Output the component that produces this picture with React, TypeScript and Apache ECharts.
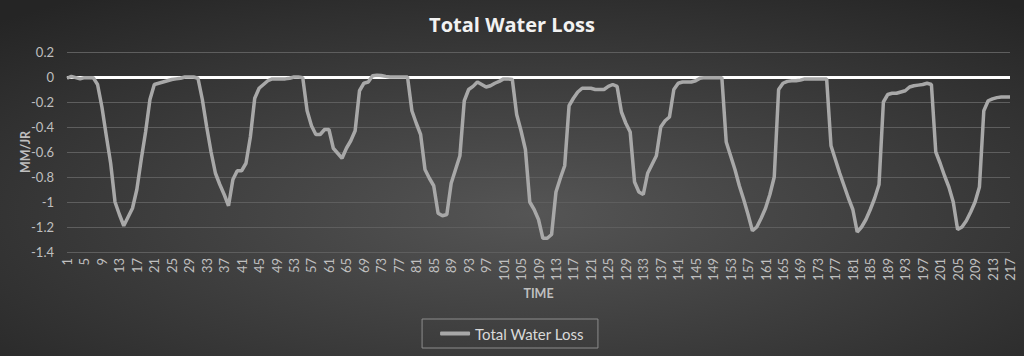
import React, { useEffect, useRef } from "react";
import * as echarts from "echarts";

const TITLE = "Total Water Loss";
const SERIES_NAME = "Total Water Loss";
const X_NAME = "TIME";
const Y_NAME = "MM/JR";
const CATEGORY_COUNT = 217;
const categories: string[] = Array.from({ length: CATEGORY_COUNT }, (_, i) => String(i + 1));

const waterLoss: number[] = [
  -0.01, 0.005, -0.005, -0.015, -0.005, -0.005, -0.005, -0.06, -0.24, -0.47,
  -0.69, -1.0, -1.1, -1.19, -1.12, -1.05, -0.9, -0.66, -0.44, -0.18,
  -0.06, -0.05, -0.04, -0.03, -0.02, -0.015, -0.01, 0, 0, 0,
  -0.01, -0.18, -0.4, -0.6, -0.77, -0.86, -0.94, -1.03, -0.82, -0.75,
  -0.75, -0.69, -0.48, -0.17, -0.09, -0.06, -0.03, -0.015, -0.015, -0.015,
  -0.015, -0.01, 0, 0, -0.005, -0.27, -0.39, -0.46, -0.46, -0.42,
  -0.42, -0.57, -0.61, -0.65, -0.57, -0.51, -0.43, -0.11, -0.05, -0.04,
  0.01, 0.015, 0.012, 0.005, 0, 0, 0, 0, 0, -0.27,
  -0.37, -0.46, -0.74, -0.81, -0.87, -1.09, -1.11, -1.1, -0.85, -0.74,
  -0.63, -0.19, -0.1, -0.075, -0.04, -0.06, -0.08, -0.07, -0.05, -0.035,
  -0.015, -0.015, -0.02, -0.3, -0.43, -0.58, -1.0, -1.06, -1.14, -1.29,
  -1.29, -1.26, -0.92, -0.81, -0.71, -0.23, -0.17, -0.12, -0.09, -0.09,
  -0.09, -0.1, -0.1, -0.1, -0.075, -0.06, -0.075, -0.28, -0.37, -0.44,
  -0.84, -0.92, -0.94, -0.77, -0.7, -0.63, -0.4, -0.35, -0.32, -0.1,
  -0.05, -0.04, -0.04, -0.04, -0.03, -0.01, -0.005, -0.005, -0.005, -0.005,
  -0.005, -0.52, -0.63, -0.74, -0.87, -0.98, -1.1, -1.23, -1.2, -1.13,
  -1.05, -0.94, -0.8, -0.1, -0.05, -0.035, -0.03, -0.03, -0.025, -0.015,
  -0.015, -0.015, -0.015, -0.015, -0.015, -0.55, -0.66, -0.77, -0.87, -0.97,
  -1.06, -1.24, -1.2, -1.14, -1.06, -0.97, -0.86, -0.2, -0.14, -0.13,
  -0.13, -0.12, -0.11, -0.08, -0.07, -0.065, -0.06, -0.05, -0.06, -0.6,
  -0.69, -0.79, -0.88, -1.0, -1.22, -1.2, -1.15, -1.08, -1.0, -0.88,
  -0.27, -0.19, -0.175, -0.165, -0.16, -0.16, -0.16,
];

const Y_MIN = -1.4;
const Y_MAX = 0.2;
const Y_STEP = 0.2;

const FONT = "Lato, 'Open Sans', sans-serif";
const LINE_COLOR = "#a8a8a8";

export default function App() {
  const ref = useRef<HTMLDivElement>(null);
  useEffect(() => {
    document.body.style.margin = "0";
    const chart = echarts.init(ref.current!, undefined, { renderer: "svg" });
    chart.setOption({
      animation: false,
      backgroundColor: new echarts.graphic.RadialGradient(0.52, 0.6, 0.75, [
        { offset: 0, color: "#555555" },
        { offset: 1, color: "#252525" },
      ]),
      title: {
        text: TITLE,
        left: "center",
        top: 9,
        textStyle: { color: "#f2f2f2", fontSize: 20, fontWeight: "bold", fontFamily: "'Open Sans', Lato, sans-serif" },
      },
      legend: {
        data: [{ name: SERIES_NAME, icon: "roundRect" }],
        left: "center",
        bottom: 8,
        borderColor: "#8c8c8c",
        borderWidth: 1,
        padding: [7, 14, 7, 18],
        itemWidth: 30,
        itemHeight: 4,
        itemGap: 5,
        itemStyle: { color: LINE_COLOR },
        textStyle: { color: "#d9d9d9", fontSize: 15, fontFamily: FONT, lineHeight: 15 },
      },
      grid: { left: 67, right: 14, top: 52, bottom: 104, containLabel: false },
      xAxis: {
        type: "category",
        data: categories,
        boundaryGap: false,
        name: X_NAME,
        nameLocation: "middle",
        nameGap: 35,
        nameMoveOverlap: false,
        nameTextStyle: { color: "#bfbfbf", fontSize: 12.5, fontWeight: "bold", fontFamily: FONT },
        axisLine: { show: false },
        axisTick: { show: false },
        axisLabel: {
          interval: 3,
          rotate: 90,
          color: "#bfbfbf",
          fontSize: 13,
          margin: 6,
          fontFamily: FONT,
        },
        splitLine: { show: false },
      },
      yAxis: {
        type: "value",
        min: Y_MIN,
        max: Y_MAX,
        interval: Y_STEP,
        name: Y_NAME,
        nameLocation: "middle",
        nameGap: 35,
        nameMoveOverlap: false,
        nameTextStyle: { color: "#bfbfbf", fontSize: 12.5, fontWeight: "bold", fontFamily: FONT },
        axisLine: { show: false },
        axisTick: { show: false },
        axisLabel: {
          color: "#bfbfbf",
          fontSize: 13,
          margin: 13,
          fontFamily: FONT,
          formatter: (v: number) => String(Math.round(v * 10) / 10),
        },
        splitLine: { lineStyle: { color: "#5e5e5e", width: 1 } },
      },
      series: [
        {
          name: SERIES_NAME,
          type: "line",
          data: waterLoss,
          symbol: "none",
          lineStyle: { color: LINE_COLOR, width: 3.5 },
          itemStyle: { color: LINE_COLOR },
          markLine: {
            silent: true,
            symbol: "none",
            label: { show: false },
            lineStyle: { color: "#ffffff", width: 3, type: "solid" },
            data: [{ yAxis: 0 }],
            z: 1,
          },
          z: 3,
        },
      ],
    });
    return () => chart.dispose();
  }, []);
  return <div ref={ref} style={{ position: "absolute", left: 0, top: 0, width: 1024, height: 356 }} />;
}
